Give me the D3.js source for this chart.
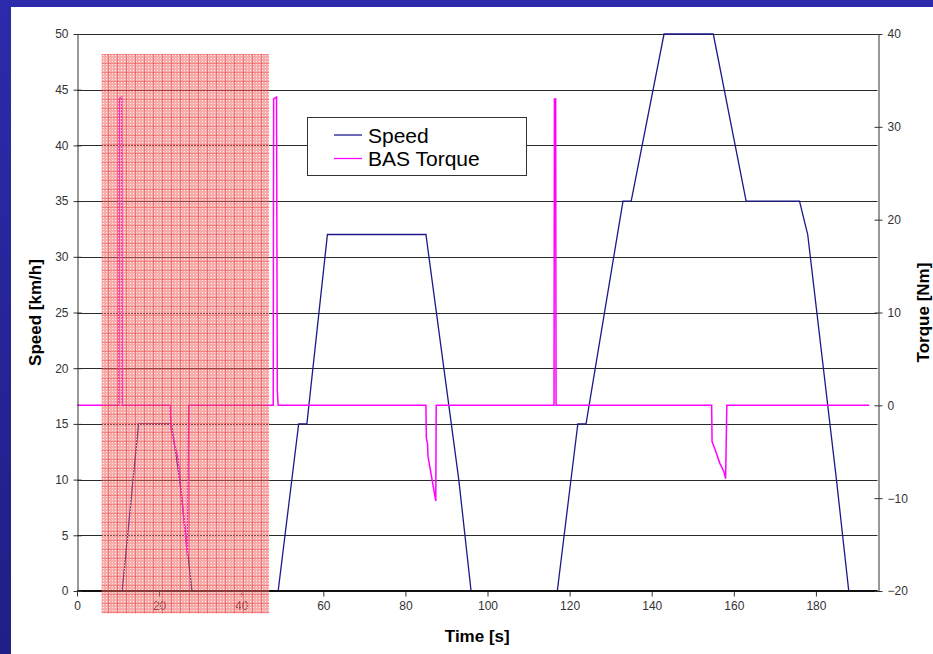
<!DOCTYPE html>
<html><head><meta charset="utf-8">
<script src="https://cdn.jsdelivr.net/npm/d3@7/dist/d3.min.js"></script>
<style>
html,body{margin:0;padding:0;background:#fff;}
svg{display:block;font-family:"Liberation Sans",Arial,sans-serif;}
</style></head>
<body>
<script>
// ---- data ----
const speedTime  = [0,11,15,23,25,28,49,54,56,61,85,93,96,117,122,124,133,135,143,155,163,176,178,185,188,195];
const speedValue = [0,0,15,15,10,0,0,15,15,32,32,10,0,0,15,15,35,35,50,50,35,35,32,10,0,0];
const torqueTime  = [0,10.2,10.3,10.9,11.0,22.7,22.9,24.6,26.9,27.2,47.8,47.9,48.6,48.8,49.0,85.0,85.1,85.4,85.5,87.4,87.5,116.2,116.3,116.6,116.7,154.6,154.7,155.3,156.6,157.6,158.0,158.3,193];
const torqueValue = [0,0,33,33.2,0,0,-2.5,-5.7,-16.2,0,0,33,33.2,1.5,0,0,-3.5,-4.2,-5.5,-10.3,0,0,33,33,0,0,-3.9,-4.6,-6.25,-7.15,-7.9,0,0];
const xTicks = [0,20,40,60,80,100,120,140,160,180];
const speedTicks = [0,5,10,15,20,25,30,35,40,45,50];
const torqueTicks = [-20,-10,0,10,20,30,40];
const hatchTime = [6,46.8];
const hatchSpeed = [-2,48.2];
const seriesNames = ["Speed","BAS Torque"];
const seriesColors = ["#1a1a8a","#ff00ff"];

const W=933,H=654;
const L=77,R=877.5,T=34,B=591;
const svg=d3.select("body").append("svg").attr("width",W).attr("height",H);

// frame background
const defs=svg.append("defs");
const grad=defs.append("linearGradient").attr("id","lg").attr("x1",0).attr("y1",0).attr("x2",0).attr("y2",1);
grad.append("stop").attr("offset","0%").attr("stop-color","#2b2bab");
grad.append("stop").attr("offset","100%").attr("stop-color","#1f1f85");
svg.append("rect").attr("x",0).attr("y",0).attr("width",W).attr("height",7).attr("fill","#2b2bab");
svg.append("rect").attr("x",0).attr("y",0).attr("width",11).attr("height",H).attr("fill","url(#lg)");

// hatch pattern
const pat=defs.append("pattern").attr("id","hatch").attr("patternUnits","userSpaceOnUse").attr("width",9).attr("height",9);
pat.append("rect").attr("width",9).attr("height",9).attr("fill","rgba(240,95,95,0.52)");
[0,3,6].forEach(a=>[0,3,6].forEach(b=>{
  pat.append("rect").attr("x",a+1).attr("y",b+1).attr("width",1).attr("height",1).attr("fill","rgba(255,255,255,0.8)");
}));
pat.append("rect").attr("x",0).attr("y",0).attr("width",1).attr("height",9).attr("fill","rgba(235,30,30,0.4)");
pat.append("rect").attr("x",0).attr("y",0).attr("width",9).attr("height",1).attr("fill","rgba(235,30,30,0.3)");

const x=d3.scaleLinear().domain([0,195]).range([L,R]);
const yS=d3.scaleLinear().domain([0,50]).range([B,T]);
const yT=d3.scaleLinear().domain([-20,40]).range([B,T]);

// gridlines
svg.append("g").selectAll("line").data(speedTicks.filter(d=>d>0)).join("line")
  .attr("x1",L).attr("x2",R).attr("y1",d=>Math.round(yS(d))+0.5).attr("y2",d=>Math.round(yS(d))+0.5)
  .attr("stroke","#2a2a2a").attr("stroke-width",1);

// lines
const speedData=speedTime.map((t,i)=>[t,speedValue[i]]);
const torqueData=torqueTime.map((t,i)=>[t,torqueValue[i]]);
svg.append("path").datum(speedData).attr("fill","none").attr("stroke",seriesColors[0]).attr("stroke-width",1.3)
  .attr("d",d3.line().x(d=>x(d[0])).y(d=>yS(d[1])));
svg.append("path").datum(torqueData).attr("fill","none").attr("stroke",seriesColors[1]).attr("stroke-width",1.5)
  .attr("d",d3.line().x(d=>x(d[0])).y(d=>yT(d[1])));

// axes
const tickFont=g=>{g.selectAll("text").attr("font-size",12).attr("fill","#333").attr("font-family","Liberation Sans, Arial, sans-serif");
  g.selectAll("path").attr("stroke","#333"); g.selectAll("line").attr("stroke","#333");};
const ax=svg.append("g").attr("transform",`translate(0,${Math.round(B)+0.5})`)
  .call(d3.axisBottom(x).tickValues(xTicks).tickSize(5).tickSizeOuter(0).tickPadding(5)).call(tickFont);
ax.select(".domain").remove();
svg.append("line").attr("x1",L).attr("x2",R).attr("y1",Math.round(B)).attr("y2",Math.round(B)).attr("stroke","#111").attr("stroke-width",2);

const al=svg.append("g").attr("transform",`translate(${Math.round(L)+0.5},0)`)
  .call(d3.axisLeft(yS).tickValues(speedTicks).tickSize(4).tickSizeOuter(0).tickPadding(5)).call(tickFont);
al.selectAll(".tick line").attr("x2",-4).attr("x1",4);
const ar=svg.append("g").attr("transform",`translate(${Math.round(R)+0.5},0)`)
  .call(d3.axisRight(yT).tickValues(torqueTicks).tickSize(4).tickSizeOuter(0).tickPadding(5)).call(tickFont);
ar.selectAll(".tick line").attr("x1",-4).attr("x2",4);

// axis titles
svg.append("text").attr("x",x(97.5)).attr("y",642).attr("text-anchor","middle")
  .attr("font-size",17).attr("font-weight","bold").attr("fill","#000").text("Time [s]");
svg.append("text").attr("transform",`translate(41,${(T+B)/2}) rotate(-90)`).attr("text-anchor","middle")
  .attr("font-size",17).attr("font-weight","bold").attr("fill","#000").text("Speed [km/h]");
svg.append("text").attr("transform",`translate(929,${(T+B)/2}) rotate(-90)`).attr("text-anchor","middle")
  .attr("font-size",17).attr("font-weight","bold").attr("fill","#000").text("Torque [Nm]");

// hatch region
svg.append("rect").attr("x",x(hatchTime[0])).attr("y",yS(hatchSpeed[1]))
  .attr("width",x(hatchTime[1])-x(hatchTime[0])).attr("height",yS(hatchSpeed[0])-yS(hatchSpeed[1]))
  .attr("fill","url(#hatch)");

// legend
const lg=svg.append("g").attr("transform","translate(307,117)");
lg.append("rect").attr("x",0.5).attr("y",0.5).attr("width",219).attr("height",58).attr("fill","#fff").attr("stroke","#333");
seriesNames.forEach((n,i)=>{
  const yy=18+i*23.5;
  lg.append("line").attr("x1",27).attr("x2",55).attr("y1",yy).attr("y2",yy).attr("stroke",seriesColors[i]).attr("stroke-width",1.3);
  lg.append("text").attr("x",61).attr("y",yy+7.5).attr("font-size",21).attr("fill","#000").text(n);
});
</script>
</body></html>
